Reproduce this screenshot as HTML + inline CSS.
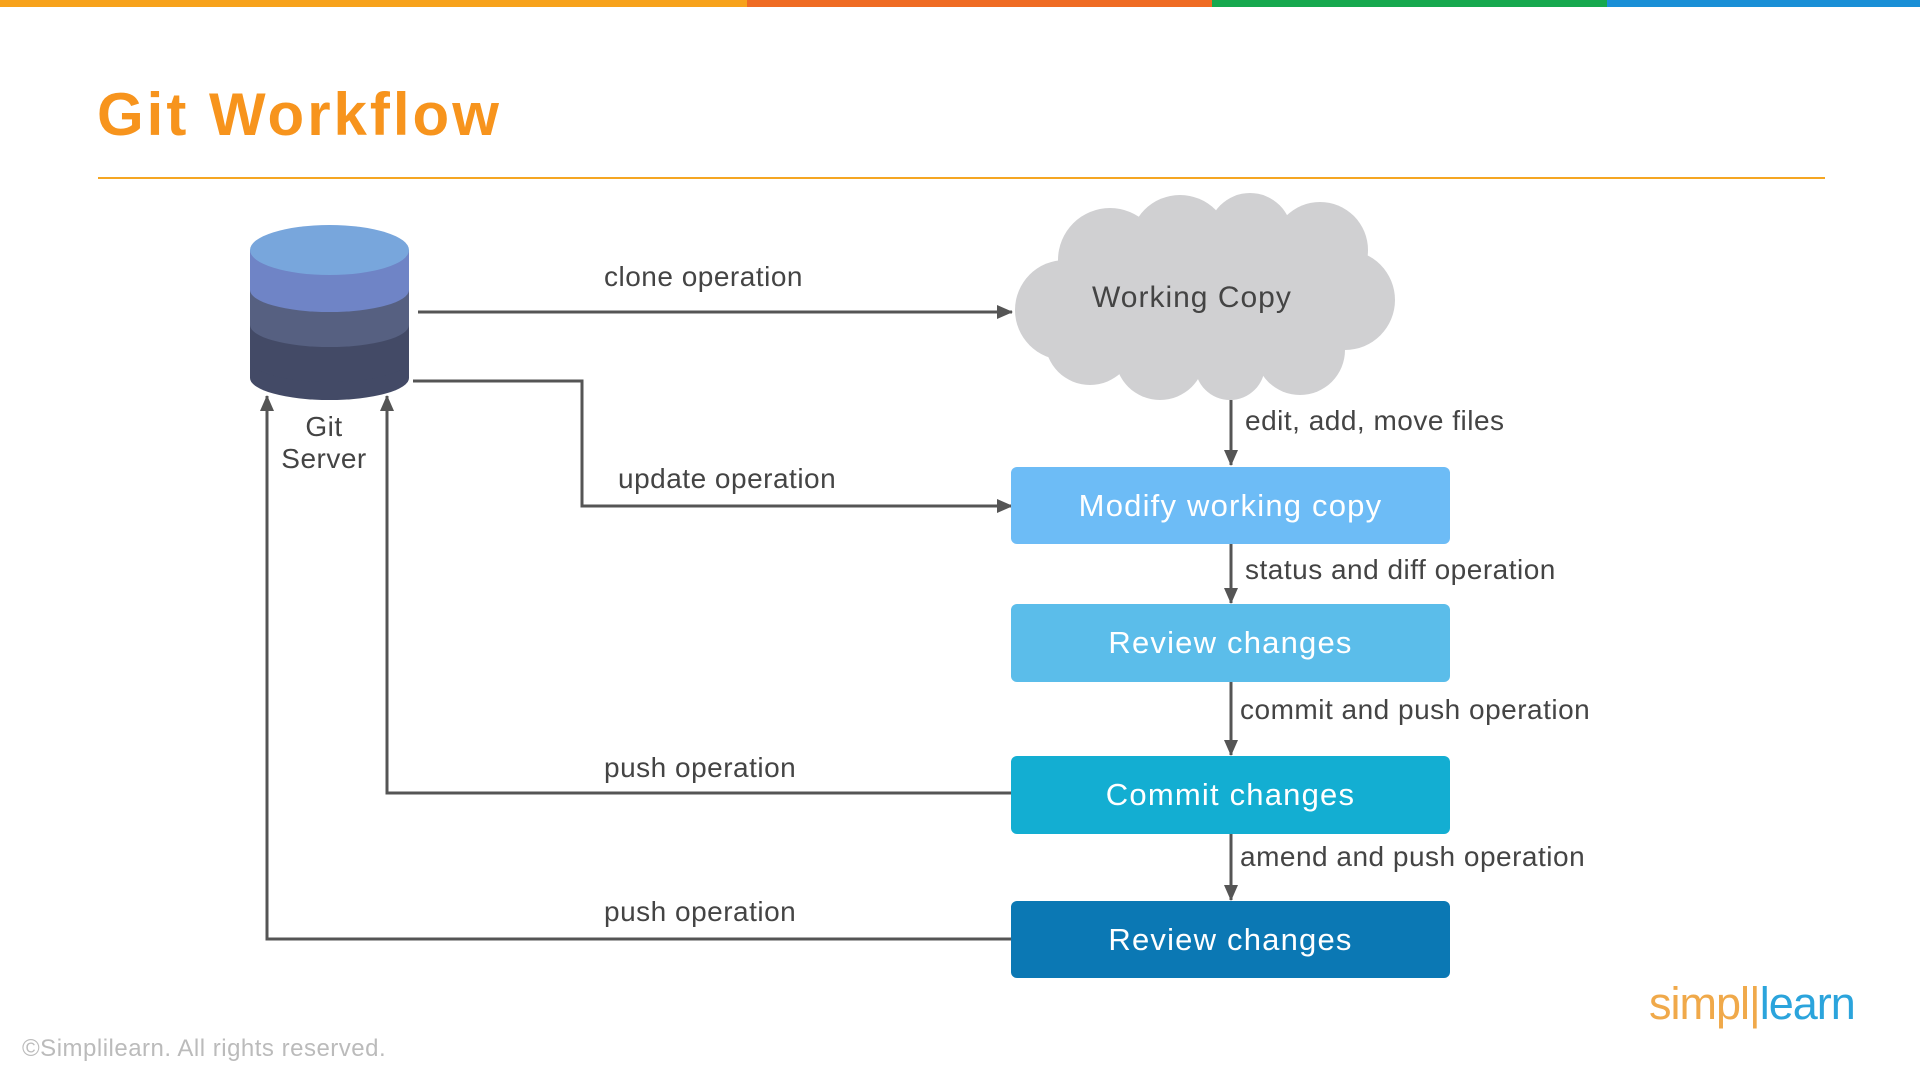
<!DOCTYPE html>
<html><head><meta charset="utf-8"><style>
body{margin:0;width:1920px;height:1080px;background:#fff;position:relative;overflow:hidden;font-family:"Liberation Sans",sans-serif;}
.t{position:absolute;white-space:nowrap;color:#444;font-size:28px;letter-spacing:0.5px;}
.box{position:absolute;left:1011px;width:439px;border-radius:6px;color:#fff;font-size:31px;letter-spacing:1.2px;display:flex;align-items:center;justify-content:center;}
</style></head><body>
<div style="position:absolute;left:0;top:0;height:7px;width:747px;background:#f7a21b"></div>
<div style="position:absolute;left:747px;top:0;height:7px;width:465px;background:#ef6b23"></div>
<div style="position:absolute;left:1212px;top:0;height:7px;width:395px;background:#16a84e"></div>
<div style="position:absolute;left:1607px;top:0;height:7px;width:313px;background:#1a8fd6"></div>
<div class="t" style="left:97px;top:80px;font-size:60px;font-weight:bold;color:#f7941d;letter-spacing:3px;">Git Workflow</div>
<div style="position:absolute;left:98px;top:177px;width:1727px;height:2px;background:#f5a623"></div>

<svg width="1920" height="1080" style="position:absolute;left:0;top:0">
<defs><marker id="b" markerWidth="16" markerHeight="16" refX="15" refY="8" orient="auto" markerUnits="userSpaceOnUse"><path d="M0,1 L16,8 L0,15z" fill="#555"/></marker></defs>
<path d="M250,360 L250,378 A79.5,22 0 0 0 409,378 L409,360z" fill="#434a66"/>
<path d="M250,325 L250,360 A79.5,22 0 0 0 409,360 L409,325z" fill="#434a66"/>
<path d="M250,290 L250,325 A79.5,22 0 0 0 409,325 L409,290z" fill="#566081"/>
<path d="M250,250 L250,290 A79.5,22 0 0 0 409,290 L409,250z" fill="#6f84c6"/>
<ellipse cx="329.5" cy="250" rx="79.5" ry="25" fill="#78a6dc"/>
<g fill="#d0d0d2">
<circle cx="1110" cy="260" r="52"/><circle cx="1180" cy="245" r="50"/><circle cx="1250" cy="235" r="42"/><circle cx="1320" cy="250" r="48"/>
<circle cx="1345" cy="300" r="50"/><circle cx="1300" cy="350" r="45"/><circle cx="1230" cy="365" r="35"/><circle cx="1160" cy="355" r="45"/>
<circle cx="1065" cy="310" r="50"/><circle cx="1090" cy="340" r="45"/><ellipse cx="1200" cy="300" rx="150" ry="70"/>
</g>
<g stroke="#555" stroke-width="3" fill="none">
<line x1="418" y1="312" x2="1012" y2="312" marker-end="url(#b)"/>
<polyline points="413,381 582,381 582,506 1012,506" marker-end="url(#b)"/>
<line x1="1231" y1="400" x2="1231" y2="465" marker-end="url(#b)"/>
<line x1="1231" y1="544" x2="1231" y2="603" marker-end="url(#b)"/>
<line x1="1231" y1="682" x2="1231" y2="755" marker-end="url(#b)"/>
<line x1="1231" y1="834" x2="1231" y2="900" marker-end="url(#b)"/>
<polyline points="1011,793 387,793 387,396" marker-end="url(#b)"/>
<polyline points="1011,939 267,939 267,396" marker-end="url(#b)"/>
</g>
</svg>
<div class="t" style="left:274px;top:411px;width:100px;text-align:center;">Git<br>Server</div>
<div class="t" style="left:1092px;top:281px;font-size:30px;letter-spacing:1px;">Working Copy</div>
<div class="t" style="left:604px;top:261px;">clone operation</div>
<div class="t" style="left:618px;top:463px;">update operation</div>
<div class="t" style="left:1245px;top:405px;">edit, add, move files</div>
<div class="t" style="left:1245px;top:554px;">status and diff operation</div>
<div class="t" style="left:1240px;top:694px;">commit and push operation</div>
<div class="t" style="left:1240px;top:841px;">amend and push operation</div>
<div class="t" style="left:604px;top:752px;">push operation</div>
<div class="t" style="left:604px;top:896px;">push operation</div>
<div class="box" style="top:467px;height:77px;background:#6dbcf6">Modify working copy</div>
<div class="box" style="top:604px;height:78px;background:#5bbdea">Review changes</div>
<div class="box" style="top:756px;height:78px;background:#13aed2">Commit changes</div>
<div class="box" style="top:901px;height:77px;background:#0b78b4">Review changes</div>
<div class="t" style="left:1649px;top:978px;font-size:45px;letter-spacing:-1px;"><span style="color:#f0a94a">simpl|</span><span style="color:#2ba4dc">learn</span></div>
<div class="t" style="left:22px;top:1035px;font-size:24px;color:#bbb;">©Simplilearn. All rights reserved.</div>
</body></html>
